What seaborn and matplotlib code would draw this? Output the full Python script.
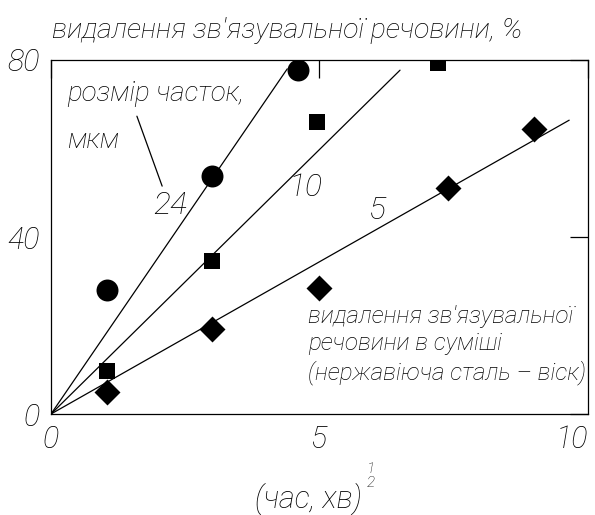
import matplotlib
matplotlib.use("Agg")
import matplotlib.pyplot as plt
import matplotlib.transforms as mtransforms
import seaborn as sns
import pandas as pd

# Measured binder removal (%) vs square root of time, per particle size
x_24 = [1.05, 3.0, 4.6]
y_24 = [28.0, 53.8, 77.7]
x_10 = [1.05, 3.0, 4.95, 7.2]
y_10 = [9.7, 34.6, 66.0, 79.3]
x_5 = [1.05, 3.0, 5.0, 7.4, 9.0]
y_5 = [5.0, 19.2, 28.5, 51.1, 64.3]

# Fitted straight lines (start at the origin), end points
fit_sizes = ["24", "10", "5"]
fit_end_x = [4.4, 6.5, 9.65]
fit_end_y = [78.0, 77.7, 66.4]

x_ticks = [0, 5, 10]
y_ticks = [0, 40, 80]

sns.set_theme(style="white")
FAMILY = ["Roboto", "DejaVu Sans"]
plt.rcParams["font.family"] = FAMILY
plt.rcParams["font.style"] = "italic"
plt.rcParams["font.weight"] = "light"

TXT = dict(family=FAMILY, style="italic", weight="light", color="black")

fig = plt.figure(figsize=(5.95, 5.15), dpi=100)
ax = fig.add_axes([0.0857, 0.1961, 0.9025, 0.6874])

points = pd.concat([
    pd.DataFrame({"x": x_24, "y": y_24, "size": "24"}),
    pd.DataFrame({"x": x_10, "y": y_10, "size": "10"}),
    pd.DataFrame({"x": x_5, "y": y_5, "size": "5"}),
])
fits = pd.DataFrame({
    "x": [v for e in fit_end_x for v in (0.0, e)],
    "y": [v for e in fit_end_y for v in (0.0, e)],
    "size": [s for s in fit_sizes for _ in range(2)],
})

sns.lineplot(data=fits, x="x", y="y", units="size", estimator=None,
             color="black", linewidth=0.9, ax=ax, legend=False)

marker_map = {"24": "o", "10": "s", "5": "D"}
size_map = {"24": 250, "10": 117, "5": 175}
for key, sub in points.groupby("size"):
    sns.scatterplot(data=sub, x="x", y="y", marker=marker_map[key],
                    s=size_map[key], color="black", edgecolor="black",
                    linewidth=0, ax=ax, legend=False, zorder=3)

ax.set_xlim(0, 10)
ax.set_ylim(0, 80)
ax.set_xticks(x_ticks)
ax.set_yticks(y_ticks)
ax.set_xticklabels([str(t) for t in x_ticks], fontsize=22, **TXT)
ax.set_yticklabels([str(t) for t in y_ticks], fontsize=22, **TXT)
# keep the last x label inside the figure, nudged slightly right of flush
last = ax.get_xticklabels()[-1]
last.set_horizontalalignment("right")
last.set_transform(last.get_transform()
                   + mtransforms.ScaledTranslation(5 / 100, 0, fig.dpi_scale_trans))
ax.tick_params(direction="in", length=13, width=0.9, top=True, right=True,
               pad=8, colors="black")
ax.set_xlabel("")
ax.set_ylabel("")
for sp in ax.spines.values():
    sp.set_color("black")
    sp.set_linewidth(0.9)
    sp.set_visible(True)

# Particle-size labels
ax.text(0.3, 72.5, "розмір часток,", fontsize=20, ha="left", va="center", **TXT)
ax.text(0.3, 61.9, "мкм", fontsize=20, ha="left", va="center", **TXT)
ax.plot([1.60, 2.07], [67.3, 51.5], color="black", linewidth=0.9)
ax.text(2.22, 47.2, "24", fontsize=23, ha="center", va="center", **TXT)
ax.text(4.74, 51.1, "10", fontsize=23, ha="center", va="center", **TXT)
ax.text(6.08, 46.1, "5", fontsize=23, ha="center", va="center", **TXT)

# Mixture note
ax.text(4.78, 15.6, "видалення зв'язувальної\nречовини в суміші\n(нержавіюча сталь – віск)",
        fontsize=17.5, ha="left", va="center", linespacing=1.27, **TXT)

fig.text(52 / 595, 1 - 31 / 515, "видалення зв'язувальної речовини, %",
         fontsize=20.5, ha="left", va="center", **TXT)
fig.text(308 / 595, 1 - 499 / 515, "(час, хв)",
         fontsize=22, ha="center", va="center", **TXT)
fig.text(371 / 595, 1 - 476 / 515, "1\n2",
         fontsize=11, ha="center", va="center", linespacing=1.05, **TXT)

fig.savefig("out.png", dpi=100, facecolor="white")
